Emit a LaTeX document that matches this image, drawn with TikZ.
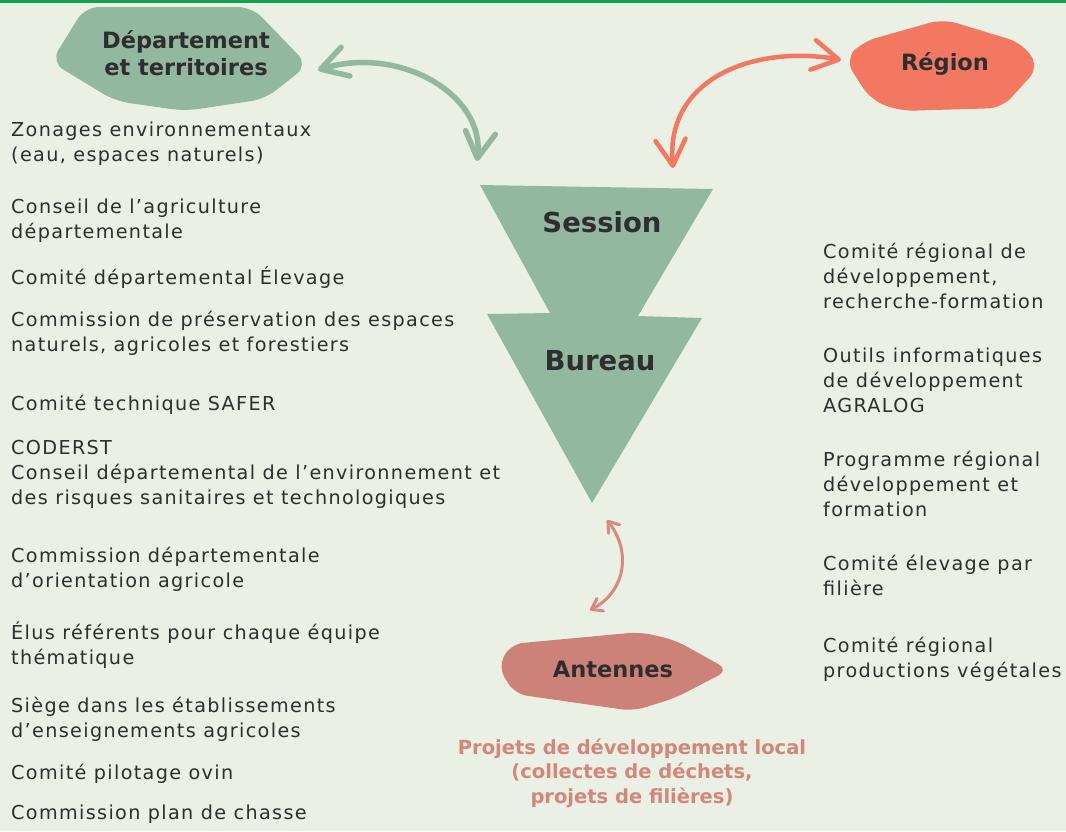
\documentclass[tikz,border=0pt]{standalone}
\usepackage{fontspec}
\setmainfont{DejaVu Sans}[LetterSpace=7]
\newfontfamily\hfont{DejaVu Sans}
\usetikzlibrary{arrows.meta}
\definecolor{bg}{HTML}{EAF0E4}
\definecolor{topline}{HTML}{12A150}
\definecolor{sage}{HTML}{93B8A0}
\definecolor{coral}{HTML}{F27862}
\definecolor{rose}{HTML}{CC8279}
\definecolor{rosetxt}{HTML}{D4857C}
\definecolor{txt}{HTML}{2E2E2E}
\definecolor{arrred}{HTML}{F27862}
\definecolor{arrrose}{HTML}{D98A80}
\tikzset{
  item/.style={anchor=base west, align=left, inner sep=0pt, text=txt, font=\fontsize{19.2}{25}\selectfont},
  head/.style={anchor=base, align=center, inner sep=0pt, text=txt, font=\hfont\bfseries\fontsize{22.5}{27}\selectfont},
  tri/.style={anchor=base, inner sep=0pt, text=txt, font=\hfont\bfseries\fontsize{27.5}{30}\selectfont},
  bigarrow/.style={line width=5.5pt, line cap=round, {Straight Barb[length=26pt,width=30pt,round]}-{Straight Barb[length=26pt,width=30pt,round]}},
  smallarrow/.style={line width=3pt, line cap=round, {Straight Barb[length=10pt,width=14pt,round]}-{Straight Barb[length=10pt,width=14pt,round]}}
}
\begin{document}
\begin{tikzpicture}[x=1pt,y=-1pt]
\fill[bg] (0,0) rectangle (1066,831);
\useasboundingbox (0,0) rectangle (1066,831);
\fill[topline] (0,0) rectangle (1066,2.5);

% blobs
\fill[sage, rounded corners=14pt] (85,7) -- (252,7) -- (308,65) -- (265,99) -- (185,111) -- (115,101) -- (51,62) -- cycle;
\fill[coral, rounded corners=14pt] (943,19) -- (1022,43) -- (1039,67) -- (1002,108) -- (900,111) -- (871,100) -- (845,60) -- (862,42) -- cycle;
\fill[rose, rounded corners=12pt] (498,667) -- (511,644) -- (640,632) -- (675,640) -- (729,670) -- (675,698) -- (633,711) -- (515,694) -- cycle;

% triangles
\fill[sage] (480,185) -- (713,189) -- (638,316) -- (702,318) -- (592,503) -- (487,314) -- (550,313) -- cycle;

% heading texts (base = last line)
\node[head] (dep) at (186,75) {Département\\et territoires};
\node[head] (reg) at (945,70) {Région};
\node[head] (ant) at (613,677) {Antennes};
\node[tri] (ses) at (602,232) {Session};
\node[tri] (bur) at (600,370) {Bureau};

% arrow end points
\coordinate (gA) at (318,70);
\coordinate (gB) at (477,161);
\coordinate (rA) at (841,60);
\coordinate (rB) at (673,168);
\coordinate (bA) at (607,520);
\coordinate (bB) at (590,610);

\draw[bigarrow, sage] (gA) .. controls (400,45) and (485,95) .. (gB);
\draw[bigarrow, arrred, line width=4.5pt] (rA) .. controls (760,45) and (665,75) .. (rB);
\draw[smallarrow, arrrose] (bA) .. controls (632,552) and (625,592) .. (bB);

% left column (base = last line)
\node[item] (l1) at (11,161) {Zonages environnementaux\\(eau, espaces naturels)};
\node[item] (l2) at (11,238) {Conseil de l’agriculture\\départementale};
\node[item] (l3) at (11,284) {Comité départemental Élevage};
\node[item] (l4) at (11,351) {Commission de préservation des espaces\\naturels, agricoles et forestiers};
\node[item] (l5) at (11,410) {Comité technique SAFER};
\node[item] (l6) at (11,504) {CODERST\\Conseil départemental de l’environnement et\\des risques sanitaires et technologiques};
\node[item] (l7) at (11,587) {Commission départementale\\d’orientation agricole};
\node[item] (l8) at (11,664) {Élus référents pour chaque équipe\\thématique};
\node[item] (l9) at (11,737) {Siège dans les établissements\\d’enseignements agricoles};
\node[item] (l10) at (11,779) {Comité pilotage ovin};
\node[item] (l11) at (11,819) {Commission plan de chasse};

% right column
\node[item] (r1) at (823,308) {Comité régional de\\développement,\\recherche-formation};
\node[item] (r2) at (823,412) {Outils informatiques\\de développement\\AGRALOG};
\node[item] (r3) at (823,516) {Programme régional\\développement et\\formation};
\node[item] (r4) at (823,595) {Comité élevage par\\filière};
\node[item] (r5) at (823,677) {Comité régional\\productions végétales};

% antennes caption
\node[anchor=base, align=center, inner sep=0pt, text=rosetxt, font=\hfont\bfseries\fontsize{19.5}{24.5}\selectfont] (proj) at (632,803) {Projets de développement local\\(collectes de déchets,\\projets de filières)};
\end{tikzpicture}
\end{document}
